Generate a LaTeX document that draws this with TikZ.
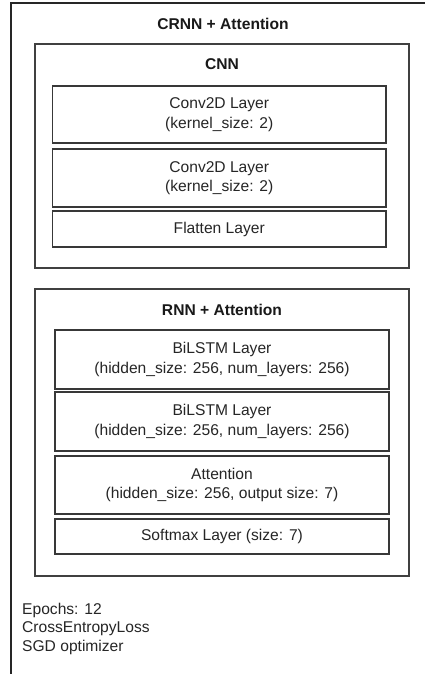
\documentclass[tikz,border=0pt]{standalone}
\usepackage{fontspec}
\setmainfont{Liberation Sans}
\begin{document}
\begin{tikzpicture}[x=1pt,y=-1pt,
  txt/.style={font=\fontsize{15.6}{19.5}\selectfont, text=black!85, inner sep=0pt},
  ttl/.style={font=\fontsize{15.6}{19.5}\selectfont\bfseries, text=black!90, inner sep=0pt},
  frame/.style={draw=black!85, line width=1.3pt, fill=none, inner sep=0pt},
  group/.style={draw=black!75, line width=1.3pt, inner sep=0pt},
  layerbox/.style={draw=black!78, line width=1.3pt, inner sep=0pt, align=center,
    font=\fontsize{15.6}{19.5}\selectfont, text=black!85}]
\useasboundingbox (0,0) rectangle (425,674);
\fill[white] (0,0) rectangle (425,674);
\clip (0,0) rectangle (425,674);
% outer frame (cropped at right and bottom)
\node[frame, minimum width=429pt, minimum height=697pt] (crnn) at (225.5,351.5) {};
\node[ttl, anchor=base] (crnntitle) at (223,29.3) {CRNN + Attention};
% CNN group
\node[group, minimum width=374pt, minimum height=224pt] (cnn) at (222,156) {};
\node[ttl, anchor=base] (cnntitle) at (222,70) {CNN};
\node[layerbox, minimum width=333.5pt, minimum height=57pt] (conv1) at (219.25,114.5) {Conv2D Layer\\(kernel\_size: 2)};
\node[layerbox, minimum width=333.5pt, minimum height=58pt] (conv2) at (219.25,178) {Conv2D Layer\\(kernel\_size: 2)};
\node[layerbox, minimum width=333.5pt, minimum height=36pt] (flat) at (219.25,229) {Flatten Layer};
% RNN group
\node[group, minimum width=374pt, minimum height=287pt] (rnn) at (222,432.5) {};
\node[ttl, anchor=base] (rnntitle) at (222,315) {RNN + Attention};
\node[layerbox, minimum width=334pt, minimum height=59pt] (lstm1) at (222,359.5) {BiLSTM Layer\\(hidden\_size: 256, num\_layers: 256)};
\node[layerbox, minimum width=334pt, minimum height=59pt] (lstm2) at (222,421.5) {BiLSTM Layer\\(hidden\_size: 256, num\_layers: 256)};
\node[layerbox, minimum width=334pt, minimum height=58pt] (att) at (222,485) {Attention\\(hidden\_size: 256, output size: 7)};
\node[layerbox, minimum width=334pt, minimum height=35pt] (soft) at (222,536.5) {Softmax Layer (size: 7)};
% training info
\node[txt, anchor=base west] (ep) at (22,614) {Epochs: 12};
\node[txt, anchor=base west] (loss) at (22,632.7) {CrossEntropyLoss};
\node[txt, anchor=base west] (opt) at (22,651.4) {SGD optimizer};
\end{tikzpicture}
\end{document}
